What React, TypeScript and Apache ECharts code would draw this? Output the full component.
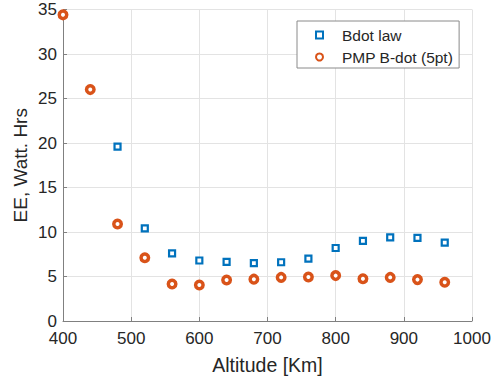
import React, { useEffect, useRef } from "react";
import * as echarts from "echarts";

const bdotAlt = [480, 520, 560, 600, 640, 680, 720, 760, 800, 840, 880, 920, 960];
const bdotEE = [19.6, 10.4, 7.6, 6.8, 6.65, 6.5, 6.6, 7.0, 8.2, 9.0, 9.4, 9.35, 8.8];
const pmpAlt = [400, 440, 480, 520, 560, 600, 640, 680, 720, 760, 800, 840, 880, 920, 960];
const pmpEE = [34.4, 26.0, 10.9, 7.1, 4.15, 4.05, 4.6, 4.7, 4.9, 4.95, 5.1, 4.75, 4.9, 4.65, 4.35];
const seriesNames = ["Bdot law", "PMP B-dot (5pt)"];
const xTitle = "Altitude [Km]";
const yTitle = "EE, Watt. Hrs";

const FONT = "'Liberation Sans', Arial, Helvetica, sans-serif";
const BLUE = "#0072BD";
const ORANGE = "#D95319";

export default function App() {
  const ref = useRef<HTMLDivElement>(null);
  useEffect(() => {
    if (!ref.current) return;
    const chart = echarts.init(ref.current, undefined, { renderer: "svg" });
    chart.setOption({
      animation: false,
      backgroundColor: "#ffffff",
      textStyle: { fontFamily: FONT },
      grid: { left: 63, right: 23, top: 9.5, bottom: 60, containLabel: false },
      legend: {
        orient: "vertical",
        left: 297,
        top: 21,
        padding: [5, 6, 2, 18],
        itemGap: 4,
        itemWidth: 7,
        itemHeight: 7,
        borderColor: "#8a8a8a",
        borderWidth: 1,
        backgroundColor: "#ffffff",
        textStyle: { fontFamily: FONT, fontSize: 15.5, color: "#262626", lineHeight: 18, padding: [0, 0, 0, 14] },
        data: seriesNames,
      },
      xAxis: {
        type: "value",
        min: 400,
        max: 1000,
        interval: 100,
        name: xTitle,
        nameLocation: "middle",
        nameGap: 34,
        nameMoveOverlap: false,
        nameTextStyle: { fontFamily: FONT, fontSize: 19.5, color: "#262626" },
        axisLine: { show: true, lineStyle: { color: "#808080", width: 1 } },
        axisTick: { show: true, inside: true, length: 4, lineStyle: { color: "#808080" } },
        axisLabel: { fontFamily: FONT, fontSize: 17, color: "#262626", margin: 9, formatter: (v: number) => String(v) },
        splitLine: { show: true, lineStyle: { color: "#e3e3e3", width: 1 } },
      },
      yAxis: {
        type: "value",
        min: 0,
        max: 35,
        interval: 5,
        name: yTitle,
        nameLocation: "middle",
        nameGap: 33.5,
        nameMoveOverlap: false,
        nameTextStyle: { fontFamily: FONT, fontSize: 19, color: "#262626" },
        axisLine: { show: true, lineStyle: { color: "#808080", width: 1 } },
        axisTick: { show: true, inside: true, length: 4, lineStyle: { color: "#808080" } },
        axisLabel: { fontFamily: FONT, fontSize: 17, color: "#262626", margin: 6, formatter: (v: number) => String(v) },
        splitLine: { show: true, lineStyle: { color: "#e3e3e3", width: 1 } },
      },
      series: [
        {
          name: seriesNames[0],
          type: "scatter",
          symbol: "rect",
          symbolSize: 6,
          itemStyle: { color: "#ffffff", borderColor: BLUE, borderWidth: 2.2, opacity: 1 },
          data: bdotAlt.map((x, i) => [x, bdotEE[i]]),
          z: 3,
        },
        {
          name: seriesNames[1],
          type: "scatter",
          symbol: "circle",
          symbolSize: 7.5,
          itemStyle: { color: "#ffffff", borderColor: ORANGE, borderWidth: 3.5, opacity: 1 },
          data: pmpAlt.map((x, i) => [x, pmpEE[i]]),
          z: 4,
        },
      ],
    });
    return () => chart.dispose();
  }, []);
  return <div ref={ref} style={{ width: 495, height: 381, position: "absolute", left: 0, top: 0 }} />;
}
